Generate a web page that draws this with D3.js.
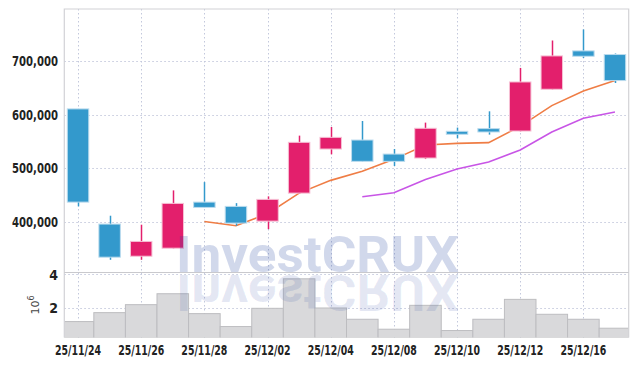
<!DOCTYPE html>
<html><head><meta charset="utf-8">
<script src="https://cdn.jsdelivr.net/npm/d3@7"></script>
<style>
html,body{margin:0;padding:0;background:#fff;}
svg{display:block;}
</style></head>
<body>
<svg id="chart" width="637" height="366"></svg>
<script>
const dates = ["25/11/24","25/11/25","25/11/26","25/11/27","25/11/28","25/12/01","25/12/02","25/12/03","25/12/04","25/12/05","25/12/08","25/12/09","25/12/10","25/12/11","25/12/12","25/12/15","25/12/16","25/12/17"];
const openV  = [611000,396000,336000,351000,437000,429000,401500,453800,536100,552900,526700,519300,569200,574200,569700,647700,719300,712500];
const highV  = [611000,411600,394800,458900,474400,435100,447700,561100,577200,588400,536100,585400,576100,606500,687500,738700,759300,714400];
const lowV   = [429000,329300,329300,350500,426500,392900,386500,453000,526200,512500,504300,517400,556100,563000,569000,647000,706200,659400];
const closeV = [437000,334200,363600,434600,427100,397800,442100,548600,557900,513100,513100,574800,563600,567900,661300,709900,709300,663900];
const volumeM = [1.16,1.70,2.18,2.84,1.64,0.86,1.96,3.74,1.98,1.30,0.70,2.14,0.62,1.30,2.50,1.60,1.30,0.76];
const ma5  = [null,null,null,null,400900,392900,415300,453800,477600,494400,516800,543600,546700,548000,578500,617200,644500,663900];
const ma10 = [null,null,null,null,null,null,null,null,null,447100,454600,479400,498700,511800,534200,567900,593500,605200];
const priceTicks = [400000,500000,600000,700000];
const volTicks = [2,4];
const dateTicks = ["25/11/24","25/11/26","25/11/28","25/12/02","25/12/04","25/12/08","25/12/10","25/12/12","25/12/16"];

const svg = d3.select("#chart");
const L = 64.3, R = 628.7, T = 9, MID = 272.5, B = 337.5;
const font = "'DejaVu Sans Condensed','Liberation Sans Narrow',sans-serif";

const x = d3.scalePoint().domain(dates).range([L, R]).padding(0.435);
const step = x.step();
const y = d3.scaleLinear().domain([305600, 797500]).range([MID, T]);
const yv = d3.scaleLinear().domain([0.2, 4.12]).range([B, MID]);

const defs = svg.append("defs");
defs.append("clipPath").attr("id","clipAll").append("rect").attr("x",L).attr("y",T).attr("width",R-L).attr("height",B-T);

// grid
const grid = svg.append("g").attr("stroke","#c3c8dc").attr("stroke-width",1).attr("stroke-dasharray","1.5,2.5");
grid.selectAll("line.h").data(priceTicks).join("line")
  .attr("x1",L).attr("x2",R).attr("y1",d=>Math.round(y(d))+0.5).attr("y2",d=>Math.round(y(d))+0.5);
grid.selectAll("line.hv").data(volTicks).join("line")
  .attr("x1",L).attr("x2",R).attr("y1",d=>Math.round(yv(d))+0.5).attr("y2",d=>Math.round(yv(d))+0.5);
grid.selectAll("line.v").data(dateTicks).join("line")
  .attr("x1",d=>Math.round(x(d))+0.5).attr("x2",d=>Math.round(x(d))+0.5).attr("y1",T).attr("y2",B);

// volume bars
const vg = svg.append("g").attr("clip-path","url(#clipAll)");
vg.selectAll("rect").data(dates).join("rect")
  .attr("x",d=>x(d)-step/2).attr("width",step)
  .attr("y",(d,i)=>yv(volumeM[i])).attr("height",(d,i)=>B-yv(volumeM[i]))
  .attr("fill","#d9d9db").attr("stroke","#bdbdc0").attr("stroke-width",1);

// MA lines
const line = d3.line().defined(d=>d.v!=null).x(d=>x(d.k)).y(d=>y(d.v));
svg.append("path").datum(dates.map((k,i)=>({k,v:ma5[i]})))
  .attr("d",line).attr("fill","none").attr("stroke","#ef7d45").attr("stroke-width",1.6);
svg.append("path").datum(dates.map((k,i)=>({k,v:ma10[i]})))
  .attr("d",line).attr("fill","none").attr("stroke","#c855e6").attr("stroke-width",1.6);

// candles
const bw = step*0.68;
const cg = svg.append("g");
dates.forEach((d,i)=>{
  const up = closeV[i] >= openV[i];
  const col = up ? "#e31f6c" : "#3399cc";
  const halo = up ? "#f6c0d4" : "#bcdcee";
  const cx = Math.round(x(d))+0.5;
  cg.append("line").attr("x1",cx).attr("x2",cx).attr("y1",y(highV[i])).attr("y2",y(lowV[i]))
    .attr("stroke",col).attr("stroke-width",1.5);
  const top = y(Math.max(openV[i],closeV[i])), bot = y(Math.min(openV[i],closeV[i]));
  cg.append("rect").attr("x",x(d)-bw/2).attr("width",bw).attr("y",top).attr("height",Math.max(bot-top,1.5))
    .attr("fill",col).attr("stroke",halo).attr("stroke-width",1);
});

// borders
svg.append("path").attr("d",`M${L},${B}V${T}H${R}V${B}`).attr("fill","none").attr("stroke","#d2d2d6").attr("stroke-width",1.2);
svg.append("line").attr("x1",L).attr("x2",R).attr("y1",MID).attr("y2",MID).attr("stroke","#c9c9cd").attr("stroke-width",1.2);

// watermark (text + mirrored reflection)
const wm = svg.append("g").attr("pointer-events","none");
wm.append("text").attr("x",176).attr("y",271.5).text("InvestCRUX")
  .attr("font-family","Roboto, 'Open Sans', sans-serif").attr("font-weight",700).attr("font-size",50)
  .attr("textLength",283).attr("lengthAdjust","spacingAndGlyphs")
  .attr("fill","rgb(40,70,160)").attr("fill-opacity",0.21);
wm.append("text").attr("x",176).attr("y",-275).attr("transform","scale(1,-1)").text("InvestCRUX")
  .attr("font-family","Roboto, 'Open Sans', sans-serif").attr("font-weight",700).attr("font-size",50)
  .attr("textLength",283).attr("lengthAdjust","spacingAndGlyphs")
  .attr("fill","rgb(40,70,160)").attr("fill-opacity",0.12);

// axes labels
const lab = svg.append("g").attr("font-family",font).attr("font-weight",700).attr("fill","#222").attr("font-size",14);
lab.selectAll("text.p").data(priceTicks).join("text")
  .attr("x",58).attr("y",d=>y(d)).attr("dy","0.36em").attr("text-anchor","end")
  .attr("textLength",46).attr("lengthAdjust","spacingAndGlyphs")
  .text(d=>d3.format(",")(d));
lab.selectAll("text.v").data(volTicks).join("text")
  .attr("x",58).attr("y",d=>yv(d)).attr("dy","0.36em").attr("text-anchor","end").text(d=>d);
lab.selectAll("text.d").data(dateTicks).join("text")
  .attr("x",d=>x(d)).attr("y",355).attr("text-anchor","middle")
  .attr("textLength",46).attr("lengthAdjust","spacingAndGlyphs")
  .text(d=>d);
const ex = svg.append("text").attr("transform","translate(39,305) rotate(-90)")
  .attr("font-family","'DejaVu Sans',sans-serif").attr("font-size",11).attr("fill","#444").attr("text-anchor","middle");
ex.append("tspan").text("10");
ex.append("tspan").attr("dy",-5).attr("font-size",8).text("6");
</script>
</body></html>
